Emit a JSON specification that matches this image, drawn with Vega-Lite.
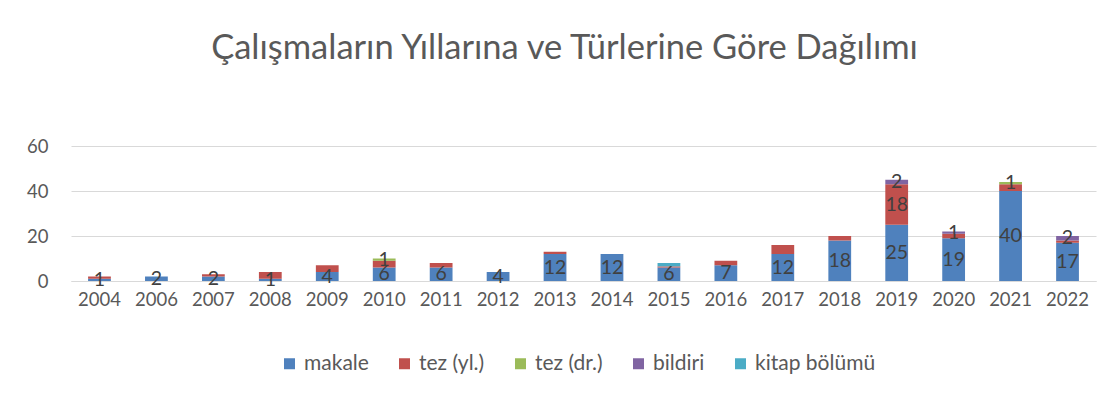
{
  "$schema": "https://vega.github.io/schema/vega-lite/v6.json",
  "width": 1025,
  "height": 135,
  "autosize": {"type": "none"},
  "padding": {"left": 71, "top": 146, "right": 22, "bottom": 124},
  "background": "white",
  "title": {
    "text": "Çalışmaların Yıllarına ve Türlerine Göre Dağılımı",
    "font": "Lato",
    "fontSize": 34.5,
    "fontWeight": "normal",
    "color": "#595959",
    "anchor": "middle",
    "dx": -19,
    "offset": 71
  },
  "data": {
    "values": [
      {"year": "2004", "type": "makale", "value": 1, "labeled": true},
      {"year": "2004", "type": "tez (yl.)", "value": 1, "labeled": false},
      {"year": "2006", "type": "makale", "value": 2, "labeled": true},
      {"year": "2007", "type": "makale", "value": 2, "labeled": true},
      {"year": "2007", "type": "tez (yl.)", "value": 1, "labeled": false},
      {"year": "2008", "type": "makale", "value": 1, "labeled": true},
      {"year": "2008", "type": "tez (yl.)", "value": 3, "labeled": false},
      {"year": "2009", "type": "makale", "value": 4, "labeled": true},
      {"year": "2009", "type": "tez (yl.)", "value": 3, "labeled": false},
      {"year": "2010", "type": "makale", "value": 6, "labeled": true},
      {"year": "2010", "type": "tez (yl.)", "value": 3, "labeled": false},
      {"year": "2010", "type": "tez (dr.)", "value": 1, "labeled": true},
      {"year": "2011", "type": "makale", "value": 6, "labeled": true},
      {"year": "2011", "type": "tez (yl.)", "value": 2, "labeled": false},
      {"year": "2012", "type": "makale", "value": 4, "labeled": true},
      {"year": "2013", "type": "makale", "value": 12, "labeled": true},
      {"year": "2013", "type": "tez (yl.)", "value": 1, "labeled": false},
      {"year": "2014", "type": "makale", "value": 12, "labeled": true},
      {"year": "2015", "type": "makale", "value": 6, "labeled": true},
      {"year": "2015", "type": "tez (yl.)", "value": 0.5, "labeled": false},
      {"year": "2015", "type": "kitap bölümü", "value": 1.5, "labeled": false},
      {"year": "2016", "type": "makale", "value": 7, "labeled": true},
      {"year": "2016", "type": "tez (yl.)", "value": 2, "labeled": false},
      {"year": "2017", "type": "makale", "value": 12, "labeled": true},
      {"year": "2017", "type": "tez (yl.)", "value": 4, "labeled": false},
      {"year": "2018", "type": "makale", "value": 18, "labeled": true},
      {"year": "2018", "type": "tez (yl.)", "value": 2, "labeled": false},
      {"year": "2019", "type": "makale", "value": 25, "labeled": true},
      {"year": "2019", "type": "tez (yl.)", "value": 18, "labeled": true},
      {"year": "2019", "type": "bildiri", "value": 2, "labeled": true},
      {"year": "2020", "type": "makale", "value": 19, "labeled": true},
      {"year": "2020", "type": "tez (yl.)", "value": 2, "labeled": false},
      {"year": "2020", "type": "bildiri", "value": 1, "labeled": true},
      {"year": "2021", "type": "makale", "value": 40, "labeled": true},
      {"year": "2021", "type": "tez (yl.)", "value": 3, "labeled": false},
      {"year": "2021", "type": "tez (dr.)", "value": 1, "labeled": true},
      {"year": "2022", "type": "makale", "value": 17, "labeled": true},
      {"year": "2022", "type": "tez (yl.)", "value": 1, "labeled": false},
      {"year": "2022", "type": "bildiri", "value": 2, "labeled": true}
    ]
  },
  "transform": [
    {"calculate": "indexof(['makale','tez (yl.)','tez (dr.)','bildiri','kitap bölümü'], datum.type)", "as": "ord"},
    {"stack": "value", "groupby": ["year"], "sort": [{"field": "ord", "order": "ascending"}], "as": ["v0", "v1"]},
    {"calculate": "(datum.v0 + datum.v1) / 2", "as": "mid"}
  ],
  "encoding": {
    "x": {
      "field": "year",
      "type": "ordinal",
      "scale": {"paddingInner": 0.6, "paddingOuter": 0.3},
      "axis": {
        "title": null,
        "labelAngle": 0,
        "ticks": false,
        "domain": true,
        "domainColor": "#D9D9D9",
        "domainWidth": 1,
        "labelFont": "Lato",
        "labelFontSize": 18.5,
        "labelColor": "#595959",
        "labelPadding": 9
      }
    }
  },
  "layer": [
    {
      "mark": {"type": "bar"},
      "encoding": {
        "y": {
          "field": "v0",
          "type": "quantitative",
          "scale": {"domain": [0, 60]},
          "axis": {
            "title": null,
            "values": [0, 20, 40, 60],
            "ticks": false,
            "domain": false,
            "grid": true,
            "gridColor": "#D9D9D9",
            "gridWidth": 1,
            "labelFont": "Lato",
            "labelFontSize": 18.5,
            "labelColor": "#595959",
            "labelPadding": 23
          }
        },
        "y2": {"field": "v1"},
        "color": {
          "field": "type",
          "type": "nominal",
          "scale": {
            "domain": ["makale", "tez (yl.)", "tez (dr.)", "bildiri", "kitap bölümü"],
            "range": ["#4F81BD", "#C0504D", "#9BBB59", "#8064A2", "#4BACC6"]
          },
          "legend": {
            "title": null,
            "orient": "none",
            "direction": "horizontal",
            "legendX": 208,
            "legendY": 207,
            "symbolType": "square",
            "symbolSize": 121,
            "symbolStrokeWidth": 0,
            "symbolOpacity": 1,
            "labelFont": "Lato",
            "labelFontSize": 21,
            "labelColor": "#595959",
            "labelOffset": 4,
            "columnPadding": 25
          }
        }
      }
    },
    {
      "transform": [{"filter": "datum.labeled"}],
      "mark": {"type": "text", "font": "Lato", "fontSize": 19.5, "color": "#404040", "baseline": "middle"},
      "encoding": {
        "y": {"field": "mid", "type": "quantitative"},
        "text": {"field": "value", "type": "quantitative"}
      }
    }
  ],
  "config": {
    "view": {"stroke": null}
  }
}
